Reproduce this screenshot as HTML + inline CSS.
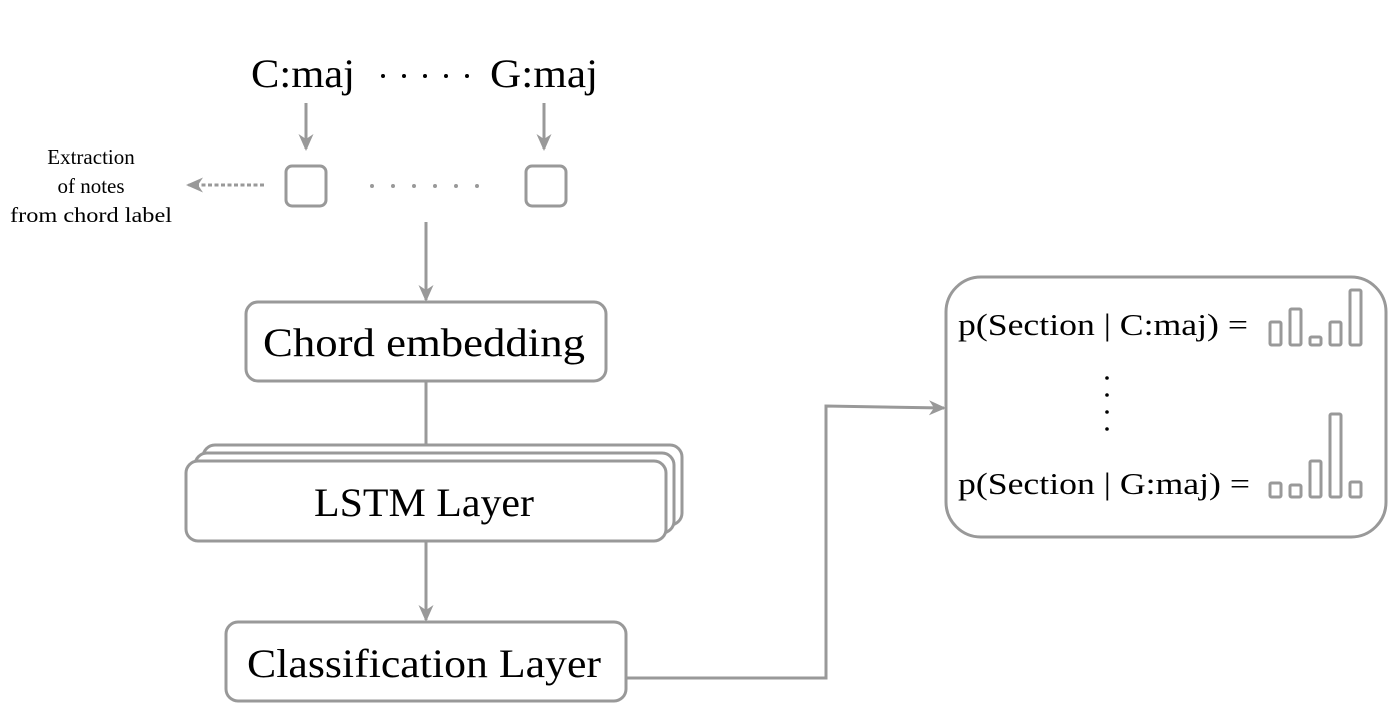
<!DOCTYPE html>
<html><head><meta charset="utf-8"><style>html,body{margin:0;padding:0;background:#fff;}svg{display:block}</style></head>
<body>
<svg width="1388" height="704" viewBox="0 0 1388 704" xmlns="http://www.w3.org/2000/svg" font-family="'Liberation Serif', serif">
<defs>
<marker id="ah2" markerWidth="18" markerHeight="18" refX="15" refY="9" orient="auto" markerUnits="userSpaceOnUse">
<path d="M0,1.5 L17,9 L0,16.5 L5,9 Z" fill="#999"/>
</marker>
</defs>
<g fill="#000">
<text x="303" y="87" font-size="40" text-anchor="middle" textLength="104" lengthAdjust="spacingAndGlyphs">C:maj</text>
<text x="544" y="87" font-size="40" text-anchor="middle" textLength="108" lengthAdjust="spacingAndGlyphs">G:maj</text>
<circle cx="383" cy="76" r="2"/><circle cx="404" cy="76" r="2"/><circle cx="425" cy="76" r="2"/><circle cx="446" cy="76" r="2"/><circle cx="467" cy="76" r="2"/>
<text x="91" y="164" font-size="21" text-anchor="middle">Extraction</text>
<text x="91" y="193" font-size="21" text-anchor="middle">of notes</text>
<text x="91" y="222" font-size="21" text-anchor="middle" textLength="162" lengthAdjust="spacingAndGlyphs">from chord label</text>
</g>
<g stroke="#999" stroke-width="3" fill="none">
<line x1="306" y1="103" x2="306" y2="149" marker-end="url(#ah2)"/>
<line x1="544" y1="103" x2="544" y2="149" marker-end="url(#ah2)"/>
<rect x="286" y="166" width="40" height="40" rx="6" fill="#fff"/>
<rect x="526" y="166" width="40" height="40" rx="6" fill="#fff"/>
<line x1="264" y1="185" x2="188" y2="185" stroke-dasharray="4,2.5" marker-end="url(#ah2)"/>
<line x1="426" y1="222" x2="426" y2="300" marker-end="url(#ah2)"/>
<rect x="246" y="302" width="360" height="79" rx="12" fill="#fff"/>
<line x1="426" y1="381" x2="426" y2="446"/>
<rect x="203" y="445" width="479" height="80" rx="12" fill="#fff"/>
<rect x="195" y="453" width="479" height="80" rx="12" fill="#fff"/>
<rect x="186" y="461" width="480" height="80" rx="12" fill="#fff"/>
<line x1="426" y1="541" x2="426" y2="620" marker-end="url(#ah2)"/>
<rect x="226" y="622" width="400" height="79" rx="12" fill="#fff"/>
<polyline points="626,678 826,678 826,406 944,408" marker-end="url(#ah2)"/>
<rect x="946" y="277" width="440" height="260" rx="35" fill="#fff"/>
<rect x="1270" y="322" width="11" height="23" rx="1.5"/>
<rect x="1290" y="309" width="11" height="36" rx="1.5"/>
<rect x="1310" y="337" width="11" height="8" rx="1.5"/>
<rect x="1330" y="322" width="11" height="23" rx="1.5"/>
<rect x="1350" y="290" width="11" height="55" rx="1.5"/>
<rect x="1270" y="483" width="11" height="14" rx="1.5"/>
<rect x="1290" y="485" width="11" height="12" rx="1.5"/>
<rect x="1310" y="461" width="11" height="36" rx="1.5"/>
<rect x="1330" y="414" width="11" height="83" rx="1.5"/>
<rect x="1350" y="482" width="11" height="15" rx="1.5"/>
</g>
<g fill="#999">
<circle cx="372" cy="186" r="2"/><circle cx="393" cy="186" r="2"/><circle cx="414" cy="186" r="2"/><circle cx="435" cy="186" r="2"/><circle cx="456" cy="186" r="2"/><circle cx="477" cy="186" r="2"/>
</g>
<g fill="#000">
<text x="424" y="356" font-size="40" text-anchor="middle" textLength="322" lengthAdjust="spacingAndGlyphs">Chord embedding</text>
<text x="424" y="516" font-size="40" text-anchor="middle" textLength="220" lengthAdjust="spacingAndGlyphs">LSTM Layer</text>
<text x="424" y="677" font-size="40" text-anchor="middle" textLength="354" lengthAdjust="spacingAndGlyphs">Classification Layer</text>
<text x="958" y="335" font-size="31" textLength="290" lengthAdjust="spacingAndGlyphs">p(Section | C:maj) =</text>
<text x="958" y="494" font-size="31" textLength="292" lengthAdjust="spacingAndGlyphs">p(Section | G:maj) =</text>
<circle cx="1107" cy="378" r="1.8"/><circle cx="1107" cy="395" r="1.8"/><circle cx="1107" cy="412" r="1.8"/><circle cx="1107" cy="429" r="1.8"/>
</g>
</svg>
</body></html>
